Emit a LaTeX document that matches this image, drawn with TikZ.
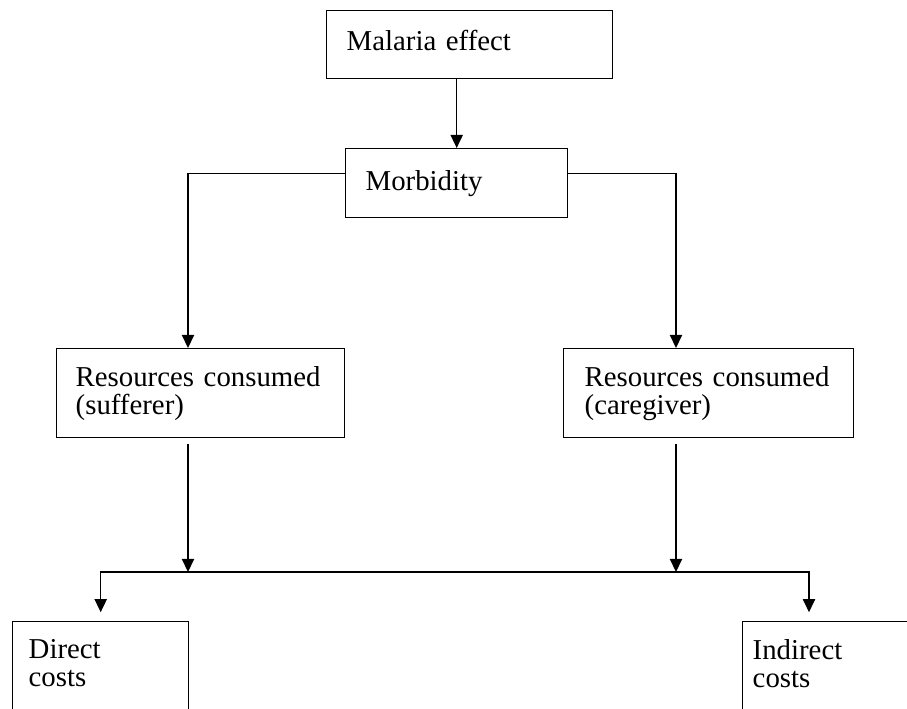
\documentclass[tikz,border=0pt]{standalone}
\usepackage{fontspec}
\setmainfont{Liberation Serif}
\usetikzlibrary{arrows.meta}
\usetikzlibrary{calc,positioning}

\begin{document}
\begin{tikzpicture}[x=0.02cm, y=-0.02cm]
    \def\px{0.02cm}

    \tikzstyle{line} = [draw, line width=0.8pt, -{Triangle[length=7.5pt, width=7pt]}]
    \tikzstyle{block} = [draw, line width=0.8pt, anchor=north west, align=left, inner xsep=20*\px, inner ysep=0pt, font=\fontsize{16.4pt}{16pt}\selectfont]
    \tikzstyle{cost block} = [block, inner ysep=18*\px, text depth=3cm, font=\fontsize{16.4pt}{16pt}\selectfont]

    \path[use as bounding box, clip] (0,0) rectangle (907,708);

    \node[block, text width=246*\px, minimum height=68*\px, text depth=.45em] (malaria) at (326,10) {Malaria effect};

    \node[block, text width=182*\px, minimum height=69*\px] (morbidity) at (345,148) {Morbidity};

    \node[block, inner xsep=19*\px, text width=250*\px, minimum height=89*\px] (sufferer) at (56,348) {Resources consumed\\(sufferer)};

    \node[block, inner xsep=21*\px, text width=248*\px, minimum height=89*\px] (caregiver) at (563,348) {Resources consumed\\(caregiver)};

    \node[cost block, inner xsep=16*\px, text width=144*\px] (direct) at (12,621) {Direct\\costs};

    \node[cost block, inner xsep=10*\px, text width=160*\px] (indirect) at (742,621) {Indirect\\costs};

    \coordinate (sufCol) at (188,0);
    \coordinate (careCol) at (676,0);
    \coordinate (indCol) at (809,0);
    \coordinate (split) at (432,572);

    \path [line] (malaria.south -| morbidity.north) -- (morbidity.north);
    \path [line] (morbidity.175) -| (sufCol |- sufferer.north);
    \path [line] (morbidity.5) -| (careCol |- caregiver.north);

    \path [line, shorten <=3pt] (sufCol |- sufferer.south) -- (sufCol |- split);
    \path [line, shorten <=3pt] (careCol |- caregiver.south) -- (careCol |- split);

    \path [line, shorten >=5pt] (split) -| (direct.north);
    \path [line, shorten >=5pt] (split) -| (indCol |- indirect.north);
\end{tikzpicture}
\end{document}
